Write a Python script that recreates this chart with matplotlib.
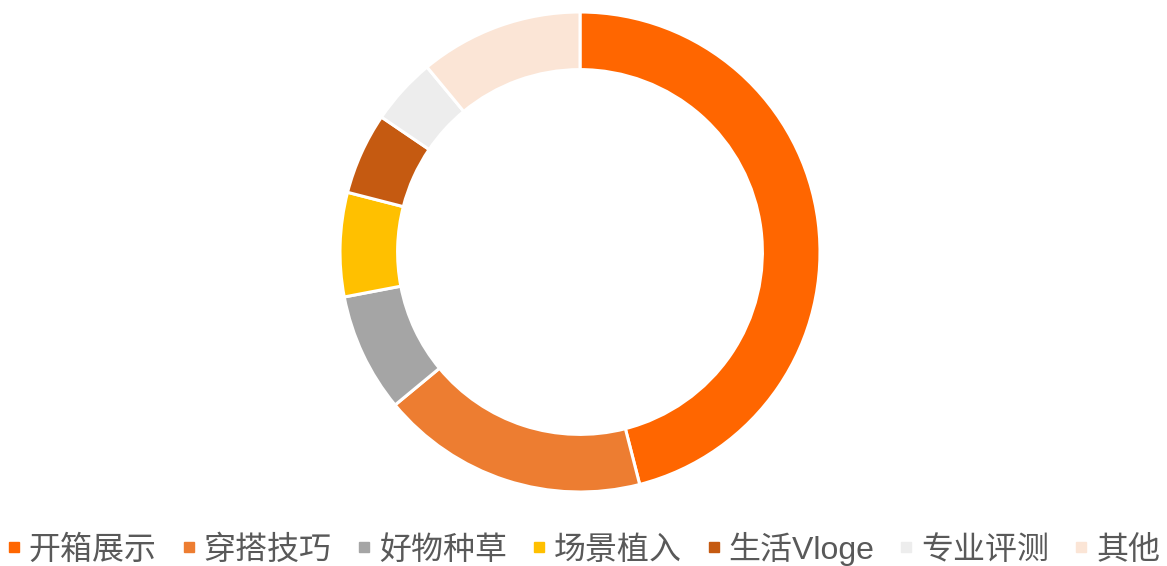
import matplotlib
matplotlib.use("Agg")
import matplotlib.pyplot as plt
from matplotlib.lines import Line2D

plt.rcParams['font.family'] = ['Liberation Sans', 'Noto Sans CJK SC', 'DejaVu Sans']

# Data
categories = ['开箱展示', '穿搭技巧', '好物种草', '场景植入', '生活Vloge', '专业评测', '其他']
shares = [46, 18, 8, 7, 5.5, 4.5, 11]
colors = ['#FF6600', '#ED7D31', '#A5A5A5', '#FFC000', '#C55A11', '#EDEDED', '#FBE5D6']

fig = plt.figure(figsize=(11.67, 5.66), dpi=100)
ax = fig.add_axes([340 / 1167, 74 / 566, 480 / 1167, 480 / 566])

ax.pie(shares, colors=colors, startangle=90, counterclock=False, radius=1,
       wedgeprops=dict(width=0.24, edgecolor='white', linewidth=2.2))
ax.set_xlim(-1.0, 1.0)
ax.set_ylim(-1.0, 1.0)
ax.set_aspect('equal')
ax.axis('off')

handles = [Line2D([0], [0], marker='s', linestyle='none', markersize=7.2,
                  markerfacecolor=c, markeredgecolor=c) for c in colors]
leg = fig.legend(handles, categories, loc='lower center', bbox_to_anchor=(0.5, -0.05),
                 ncol=len(categories), frameon=False, fontsize=23,
                 handlelength=0.45, handletextpad=0.25, columnspacing=0.77)
for t in leg.get_texts():
    t.set_color('#595959')

fig.savefig('out.png', dpi=100, facecolor='white')
